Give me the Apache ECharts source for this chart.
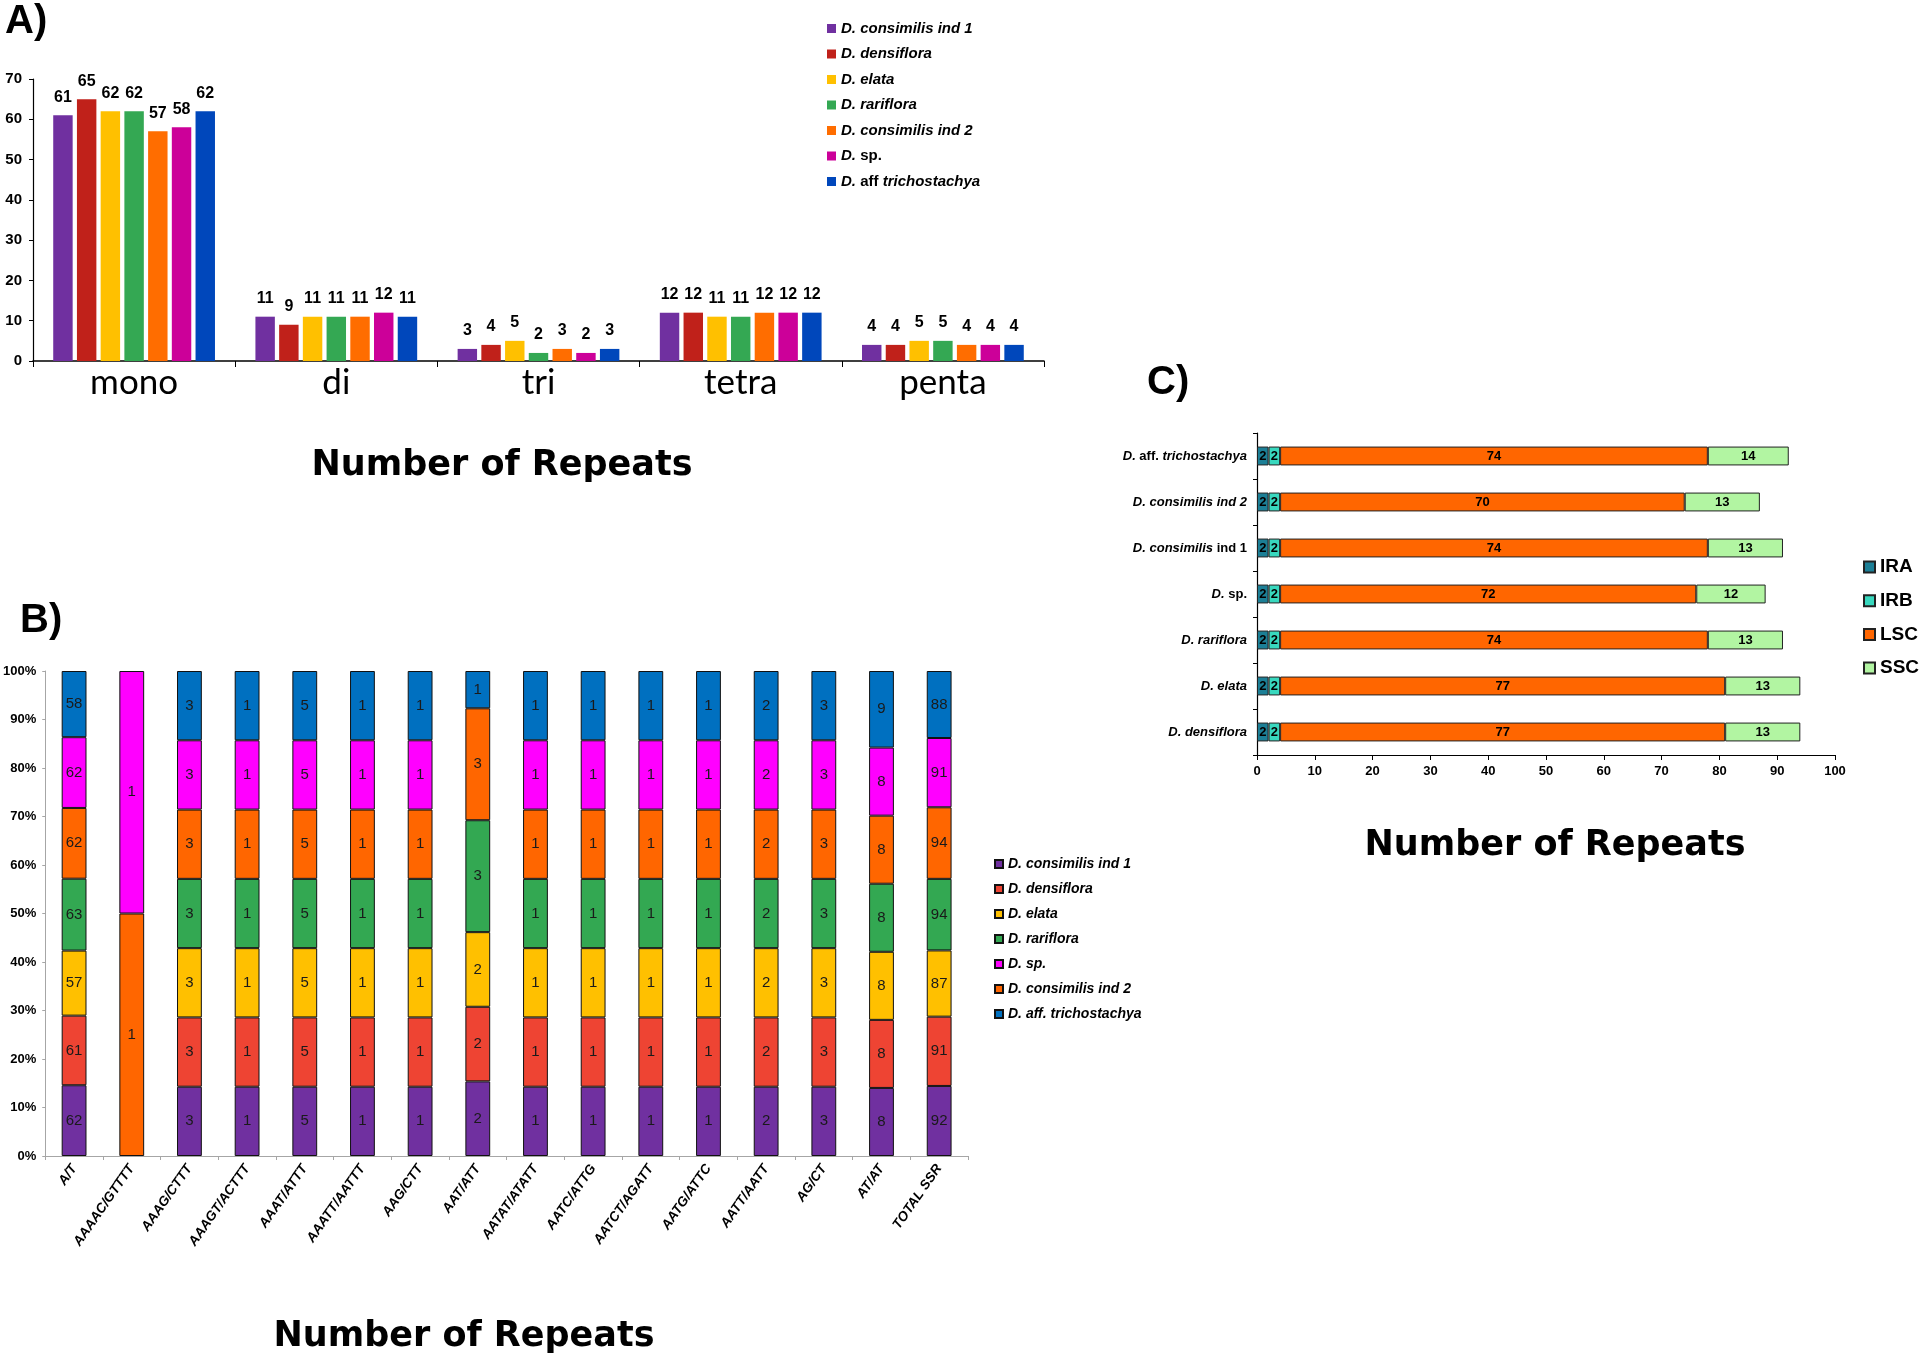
<!DOCTYPE html>
<html><head><meta charset="utf-8">
<script src="https://cdn.jsdelivr.net/npm/echarts@6/dist/echarts.min.js"></script>
<style>html,body{margin:0;padding:0;background:#fff}#c{width:1919px;height:1357px}</style>
</head><body><div id="c"></div>
<script>
// ---------- Panel A data ----------
const aCategories = ['mono','di','tri','tetra','penta'];
const aSpecies = ['D. consimilis ind 1','D. densiflora','D. elata','D. rariflora','D. consimilis ind 2','D. sp.','D. aff trichostachya'];
const aConsimilis1   = [61,11,3,12,4];
const aDensiflora    = [65, 9,4,12,4];
const aElata         = [62,11,5,11,5];
const aRariflora     = [62,11,2,11,5];
const aConsimilis2   = [57,11,3,12,4];
const aSp            = [58,12,2,12,4];
const aTrichostachya = [62,11,3,12,4];

// ---------- Panel B data ----------
const bCategories = ['A/T','AAAAC/GTTTT','AAAG/CTTT','AAAGT/ACTTT','AAAT/ATTT','AAATT/AATTT','AAG/CTT','AAT/ATT','AATAT/ATATT','AATC/ATTG','AATCT/AGATT','AATG/ATTC','AATT/AATT','AG/CT','AT/AT','TOTAL SSR'];
const bStackOrder  = ['D. consimilis ind 1','D. densiflora','D. elata','D. rariflora','D. consimilis ind 2','D. sp.','D. aff. trichostachya'];
const bLegendOrder = ['D. consimilis ind 1','D. densiflora','D. elata','D. rariflora','D. sp.','D. consimilis ind 2','D. aff. trichostachya'];
const bConsimilis1   = [62,0,3,1,5,1,1,2,1,1,1,1,2,3,8,92];
const bDensiflora    = [61,0,3,1,5,1,1,2,1,1,1,1,2,3,8,91];
const bElata         = [57,0,3,1,5,1,1,2,1,1,1,1,2,3,8,87];
const bRariflora     = [63,0,3,1,5,1,1,3,1,1,1,1,2,3,8,94];
const bConsimilis2   = [62,1,3,1,5,1,1,3,1,1,1,1,2,3,8,94];
const bSp            = [62,1,3,1,5,1,1,0,1,1,1,1,2,3,8,91];
const bTrichostachya = [58,0,3,1,5,1,1,1,1,1,1,1,2,3,9,88];

// ---------- Panel C data ----------
const cSpecies = ['D. densiflora','D. elata','D. rariflora','D. sp.','D. consimilis ind 1','D. consimilis ind 2','D. aff. trichostachya'];
const cRegions = ['IRA','IRB','LSC','SSC'];
const cIRA = [2,2,2,2,2,2,2];
const cIRB = [2,2,2,2,2,2,2];
const cLSC = [77,77,74,72,74,70,74];
const cSSC = [13,13,13,12,13,13,14];

// ---------- styles ----------
const FF = 'Liberation Sans, Arial, sans-serif';
const aColors = ['#7030A0','#C0211A','#FFC000','#34A853','#FF6D00','#CC0099','#0047BB'];
const bColors = ['#7030A0','#EE4433','#FFC000','#33A852','#FF6600','#FF00FF','#0070C0'];
const cColors = ['#1C7F96','#38D8BE','#FF6600','#B2F5A2'];

const chart = echarts.init(document.getElementById('c'), null, {renderer:'canvas'});

// Panel A series
const aValues = [aConsimilis1,aDensiflora,aElata,aRariflora,aConsimilis2,aSp,aTrichostachya];
const aSeries = aSpecies.map((n,i)=>({
  type:'bar', name:n, xAxisIndex:0, yAxisIndex:0, data:aValues[i],
  barGap:'22%', barCategoryGap:'20%',
  itemStyle:{color:aColors[i]},
  label:{show:true, position:'top', distance:10, fontFamily:FF, fontSize:16, fontWeight:'bold', color:'#000'}
}));

// Panel B series (percent stacked)
const bValues = [bConsimilis1,bDensiflora,bElata,bRariflora,bConsimilis2,bSp,bTrichostachya];
const bTotals = bCategories.map((c,j)=>bValues.reduce((s,arr)=>s+arr[j],0));
const bSeries = bStackOrder.map((n,i)=>({
  type:'bar', name:'B:'+n, xAxisIndex:1, yAxisIndex:1, stack:'b',
  barCategoryGap:'57%',
  data:bValues[i].map((v,j)=> v===0 ? {value:'-', raw:0} : {value:v/bTotals[j]*100, raw:v}),
  itemStyle:{color:bColors[i], borderColor:'#111', borderWidth:1},
  label:{show:true, position:'inside', fontFamily:FF, fontSize:15, color:'#1a1a1a',
    formatter:p=> p.data && p.data.raw ? String(p.data.raw) : ''}
}));

// Panel C series
const cValues = [cIRA,cIRB,cLSC,cSSC];
const cSeries = cRegions.map((n,i)=>({
  type:'bar', name:n, xAxisIndex:2, yAxisIndex:2, stack:'c',
  barCategoryGap:'59%',
  data:cValues[i],
  itemStyle:{color:cColors[i], borderColor:'#222', borderWidth:1},
  label:{show:true, position:'inside', fontFamily:FF, fontSize:13, fontWeight:'bold', color:'#000'}
}));

const cLabelMap = {
  'D. densiflora':'{i|D. densiflora}',
  'D. elata':'{i|D. elata}',
  'D. rariflora':'{i|D. rariflora}',
  'D. sp.':'{i|D.} {n|sp.}',
  'D. consimilis ind 1':'{i|D. consimilis} {n|ind 1}',
  'D. consimilis ind 2':'{i|D. consimilis ind 2}',
  'D. aff. trichostachya':'{i|D.} {n|aff.} {i|trichostachya}'
};
const aLegendMap = {
  'D. sp.':'D. {u|sp.}',
  'D. aff trichostachya':'D. {u|aff} trichostachya'
};

const option = {
  animation:false,
  backgroundColor:'#fff',
  textStyle:{fontFamily:FF},
  grid:[
    {left:33, top:79, width:1011, height:282},
    {left:45, top:671, width:923, height:485},
    {left:1257, top:433, width:578, height:322}
  ],
  xAxis:[
    {type:'category', gridIndex:0, data:aCategories,
     axisLine:{lineStyle:{color:'#000', width:1.5}},
     axisTick:{show:true, alignWithLabel:false, length:6, lineStyle:{color:'#000'}},
     axisLabel:{fontFamily:'Lato, Liberation Sans, sans-serif', fontSize:35, color:'#000', margin:4}},
    {type:'category', gridIndex:1, data:bCategories,
     axisLine:{lineStyle:{color:'#A6A6A6', width:1}},
     axisTick:{show:true, length:4, lineStyle:{color:'#A6A6A6'}},
     axisLabel:{interval:0, rotate:55, fontFamily:FF, fontSize:13.5, fontWeight:'bold', fontStyle:'italic', color:'#000', margin:10}},
    {type:'value', gridIndex:2, min:0, max:100, interval:10,
     splitLine:{show:false},
     axisLine:{show:true, lineStyle:{color:'#000', width:1.2}},
     axisTick:{show:true, length:5, lineStyle:{color:'#000'}},
     axisLabel:{fontFamily:FF, fontSize:13, fontWeight:'bold', color:'#000', margin:10}}
  ],
  yAxis:[
    {type:'value', gridIndex:0, min:0, max:70, interval:10,
     splitLine:{show:false},
     axisLine:{show:true, lineStyle:{color:'#000', width:1.2}},
     axisTick:{show:true, length:4, lineStyle:{color:'#000'}},
     axisLabel:{fontFamily:FF, fontSize:15, fontWeight:'bold', color:'#000', margin:11}},
    {type:'value', gridIndex:1, min:0, max:100, interval:10,
     splitLine:{show:false},
     axisLine:{show:true, lineStyle:{color:'#A6A6A6', width:1}},
     axisTick:{show:true, length:3, lineStyle:{color:'#A6A6A6'}},
     axisLabel:{formatter:'{value}%', fontFamily:FF, fontSize:13, fontWeight:'bold', color:'#000', margin:9}},
    {type:'category', gridIndex:2, data:cSpecies,
     axisLine:{show:true, lineStyle:{color:'#000', width:1.2}},
     axisTick:{show:true, length:4, lineStyle:{color:'#000'}},
     axisLabel:{margin:10, color:'#000', fontFamily:FF, fontSize:13, fontWeight:'bold',
       formatter:v=>cLabelMap[v]||v,
       rich:{i:{fontFamily:FF, fontSize:13, fontWeight:'bold', fontStyle:'italic', color:'#000'},
             n:{fontFamily:FF, fontSize:13, fontWeight:'bold', color:'#000'}}}}
  ],
  legend:[
    {data:aSpecies, orient:'vertical', left:822, top:15, icon:'rect', itemWidth:9, itemHeight:9, itemGap:8.5,
     selectedMode:false,
     formatter:n=>aLegendMap[n]||n,
     textStyle:{fontFamily:FF, fontSize:15, fontWeight:'bold', fontStyle:'italic', color:'#000', lineHeight:17,
       rich:{u:{fontFamily:FF, fontSize:15, fontWeight:'bold', fontStyle:'normal', color:'#000'}}}},
    {data:bLegendOrder.map(n=>'B:'+n), orient:'vertical', left:989, top:851, icon:'rect', itemWidth:8, itemHeight:8, itemGap:9,
     selectedMode:false,
     formatter:n=>n.replace(/^B:/,''),
     textStyle:{fontFamily:FF, fontSize:14, fontWeight:'bold', fontStyle:'italic', color:'#000', lineHeight:16}},
    {data:cRegions, orient:'vertical', left:1858, top:552, icon:'rect', itemWidth:11, itemHeight:11, itemGap:13.7,
     selectedMode:false,
     textStyle:{fontFamily:FF, fontSize:19, fontWeight:'bold', color:'#000', lineHeight:20}}
  ],
  graphic:[
    {type:'text', left:5, top:2, style:{text:'A)', font:'bold 40px '+FF, fill:'#000'}},
    {type:'text', left:20, top:601, style:{text:'B)', font:'bold 40px '+FF, fill:'#000'}},
    {type:'text', left:1147, top:363, style:{text:'C)', font:'bold 40px '+FF, fill:'#000'}},
    {type:'text', x:502, y:466, style:{text:'Number of Repeats', font:'bold 35px DejaVu Sans, sans-serif', fill:'#000', align:'center', verticalAlign:'middle'}},
    {type:'text', x:464, y:1337, style:{text:'Number of Repeats', font:'bold 35px DejaVu Sans, sans-serif', fill:'#000', align:'center', verticalAlign:'middle'}},
    {type:'text', x:1555, y:846, style:{text:'Number of Repeats', font:'bold 35px DejaVu Sans, sans-serif', fill:'#000', align:'center', verticalAlign:'middle'}}
  ],
  series:[...aSeries, ...bSeries, ...cSeries]
};
chart.setOption(option);
</script>
</body></html>
